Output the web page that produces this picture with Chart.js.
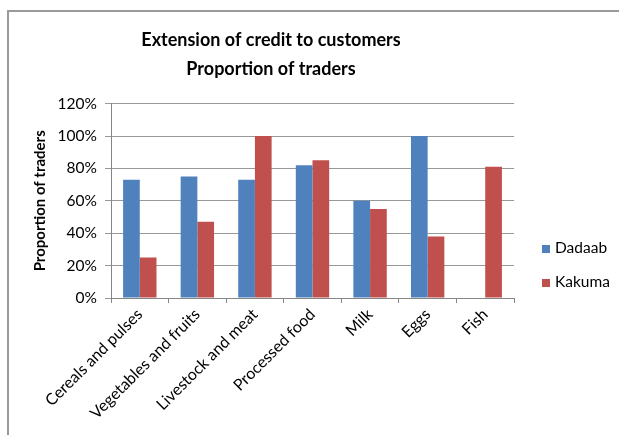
<!DOCTYPE html>
<html>
<head>
<meta charset="utf-8">
<script src="https://cdn.jsdelivr.net/npm/chart.js@4"></script>
<style>
  html, body { margin: 0; padding: 0; background: #fff; overflow: hidden; }
  #wrap { position: relative; width: 619px; height: 435px; }
  #frame { position: absolute; left: 7px; top: 10px; width: 640px; height: 460px; border: 2px solid #9a9a9a; }
  #chart { position: absolute; left: 0; top: 0; }
  #legend { position: absolute; left: 542px; top: 237px; font: 15.5px Lato, sans-serif; color: #000; }
  #legend div { height: 34px; line-height: 20px; white-space: nowrap; }
  #legend span { display: inline-block; width: 8px; height: 8px; margin-right: 5px; }
</style>
</head>
<body>
<div id="wrap">
  <div id="frame"></div>
  <canvas id="chart" width="619" height="435"></canvas>
  <div id="legend"></div>
</div>
<script>
// share of traders extending credit, per commodity (%)
const categories = ['Cereals and pulses', 'Vegetables and fruits', 'Livestock and meat',
  'Processed food', 'Milk', 'Eggs', 'Fish'];
const dadaab = [73, 75, 73, 82, 60, 100, null];
const kakuma = [25, 47, 100, 85, 55, 38, 81];
const seriesNames = ['Dadaab', 'Kakuma'];
const seriesColors = ['#4F81BD', '#C0504D'];
const yTicks = [0, 20, 40, 60, 80, 100, 120];

const font = 'Lato, sans-serif';

document.getElementById('legend').innerHTML = seriesNames
  .map((n, i) => `<div><span style="background:${seriesColors[i]}"></span>${n}</div>`)
  .join('');

new Chart(document.getElementById('chart'), {
  type: 'bar',
  data: {
    labels: categories,
    datasets: [
      { label: seriesNames[0], data: dadaab, backgroundColor: seriesColors[0] },
      { label: seriesNames[1], data: kakuma, backgroundColor: seriesColors[1] },
    ],
  },
  options: {
    responsive: false,
    animation: false,
    layout: { padding: { left: 28, right: 105, top: 0, bottom: 0 } },
    datasets: { bar: { categoryPercentage: 0.58, barPercentage: 1.0 } },
    plugins: {
      legend: { display: false },
      tooltip: { enabled: false },
      title: {
        display: true,
        text: ['Extension of credit to customers', 'Proportion of traders'],
        color: '#000',
        font: { family: font, size: 18, weight: 'bold', lineHeight: 1.6 },
        padding: { top: 26, bottom: 20 },
      },
    },
    scales: {
      x: {
        afterFit: s => { s.height = 137; },
        grid: { drawOnChartArea: false, drawTicks: true, tickLength: 5, color: '#868686' },
        border: { color: '#868686' },
        ticks: { color: '#000', font: { family: font, size: 16 }, maxRotation: 45, minRotation: 45, padding: 2 },
      },
      y: {
        min: 0,
        max: 120,
        afterFit: s => { s.width = 83; },
        afterBuildTicks: s => { s.ticks = yTicks.map(v => ({ value: v })); },
        grid: { color: '#999', tickLength: 6 },
        border: { color: '#868686' },
        ticks: { color: '#000', font: { family: font, size: 15.5 }, padding: 8, callback: v => v + '%' },
        title: {
          display: true,
          text: 'Proportion of traders',
          color: '#000',
          font: { family: font, size: 15, weight: 'bold' },
          padding: { top: 3, bottom: 0 },
        },
      },
    },
  },
});
</script>
</body>
</html>
